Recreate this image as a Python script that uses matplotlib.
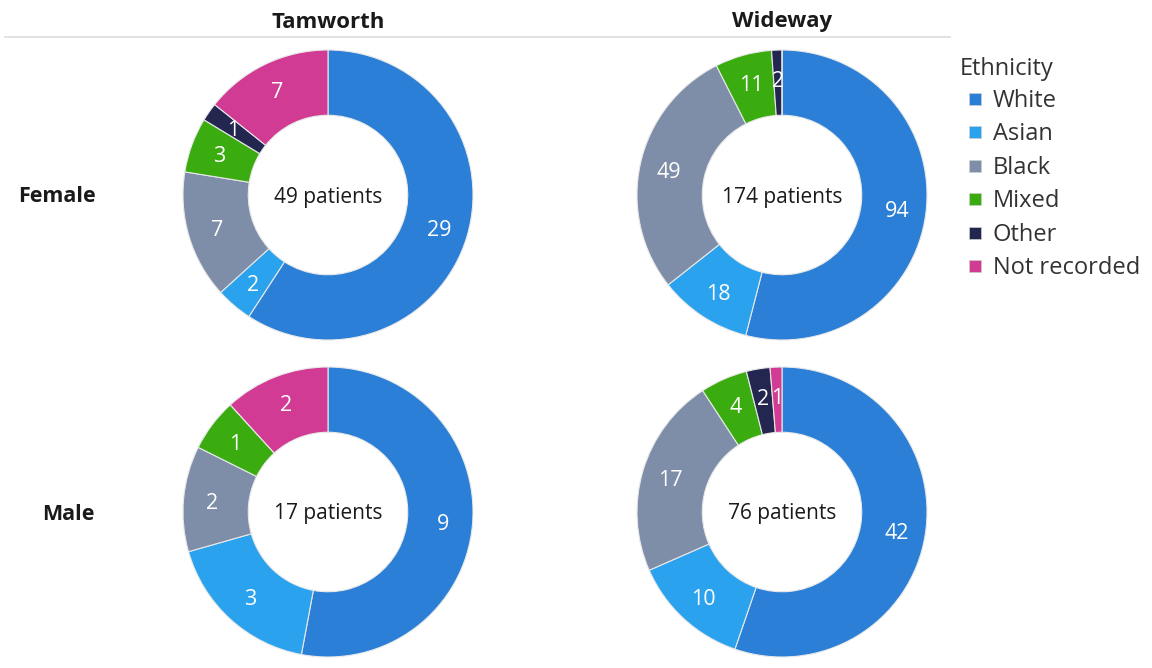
import numpy as np
import matplotlib
matplotlib.use("Agg")
import matplotlib.pyplot as plt
from matplotlib.patches import Rectangle

plt.rcParams['font.family'] = ['Open Sans', 'DejaVu Sans']

categories = ["White", "Asian", "Black", "Mixed", "Other", "Not recorded"]
colors = ["#2b7fd6", "#2ba2ee", "#7f8ea8", "#3aac10", "#23264f", "#d13b93"]

sites = ["Tamworth", "Wideway"]
sexes = ["Female", "Male"]

tamworth_female = [29, 2, 7, 3, 1, 7]
tamworth_male = [9, 3, 2, 1, 0, 2]
wideway_female = [94, 18, 49, 11, 2, 0]
wideway_male = [42, 10, 17, 4, 2, 1]

data = {
    ("Tamworth", "Female"): tamworth_female,
    ("Tamworth", "Male"): tamworth_male,
    ("Wideway", "Female"): wideway_female,
    ("Wideway", "Male"): wideway_male,
}

W, H = 1152, 668
fig = plt.figure(figsize=(W / 100, H / 100), dpi=100)
ax = fig.add_axes([0, 0, 1, 1])

col_x = {"Tamworth": 328, "Wideway": 782}
row_y = {"Female": H - 195, "Male": H - 512}
R = 145
ring = 0.45
dy = -2  # small downward nudge for text baselines

for (site, sex), vals in data.items():
    cx, cy = col_x[site], row_y[sex]
    wedges, _ = ax.pie(vals, colors=colors, startangle=90, counterclock=False,
                       radius=R, center=(cx, cy),
                       wedgeprops=dict(width=R * ring, edgecolor="#e8e8e8", linewidth=0.8))
    rl = R * 0.8
    for w, v in zip(wedges, vals):
        if v == 0:
            continue
        a = np.deg2rad((w.theta1 + w.theta2) / 2)
        ax.text(cx + rl * np.cos(a), cy + rl * np.sin(a) + dy, str(v), color="white",
                fontsize=15.5, ha="center", va="center")
    ax.text(cx, cy + dy, f"{sum(vals)} patients", fontsize=15, ha="center", va="center",
            color="#1a1a1a")

for site in sites:
    ax.text(col_x[site], H - 20 + dy, site, fontsize=16, fontweight="bold",
            ha="center", va="center", color="#1a1a1a")
ax.plot([5, 950], [H - 37, H - 37], color="#dddddd", linewidth=1.2)

ax.text(57, row_y["Female"] + dy, "Female", fontsize=15.5, fontweight="bold", ha="center",
        va="center", color="#1a1a1a")
ax.text(68, row_y["Male"] + dy, "Male", fontsize=15.5, fontweight="bold", ha="center",
        va="center", color="#1a1a1a")

# legend
ax.text(960, H - 67 + dy, "Ethnicity", fontsize=17, ha="left", va="center", color="#333333")
for i, (cat, c) in enumerate(zip(categories, colors)):
    y = H - (99 + i * 33.4)
    ax.add_patch(Rectangle((969, y - 6), 12, 12, facecolor=c, edgecolor="#cccccc", linewidth=0.5))
    ax.text(993, y + dy, cat, fontsize=17, ha="left", va="center", color="#333333")

# pie() resets the limits, so set them last
ax.set_xlim(0, W)
ax.set_ylim(0, H)
ax.set_aspect("equal")
ax.axis("off")

fig.savefig("out.png", dpi=100)
